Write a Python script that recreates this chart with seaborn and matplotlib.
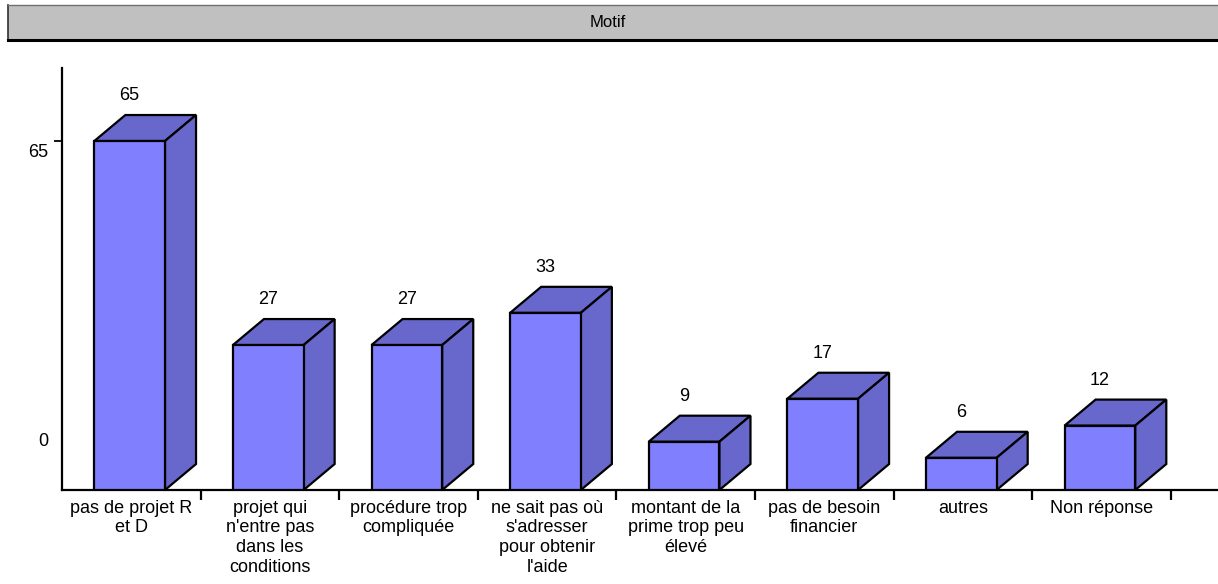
import numpy as np
import matplotlib
matplotlib.use("Agg")
import matplotlib.pyplot as plt
from matplotlib.patches import Polygon
from matplotlib.transforms import ScaledTranslation
import seaborn as sns

# Survey data: reasons given ("Motif") and number of answers
categories = [
    "pas de projet R\net D",
    "projet qui\nn'entre pas\ndans les\nconditions",
    "procédure trop\ncompliquée",
    "ne sait pas où\ns'adresser\npour obtenir\nl'aide",
    "montant de la\nprime trop peu\nélevé",
    "pas de besoin\nfinancier",
    "autres",
    "Non réponse",
]
counts = [65, 27, 27, 33, 9, 17, 6, 12]
ytick_values = [0, 65]
title_text = "Motif"

sns.set_style("white")
plt.rcParams["font.family"] = ["Liberation Sans", "DejaVu Sans"]
plt.rcParams["text.color"] = "black"
plt.rcParams["xtick.color"] = "black"
plt.rcParams["ytick.color"] = "black"
plt.rcParams["xtick.labelcolor"] = "black"
plt.rcParams["ytick.labelcolor"] = "black"

FRONT = "#8080FF"
SHADE = "#6868CC"

W, H = 1218, 584
fig = plt.figure(figsize=(W / 100, H / 100), dpi=100)

# main plotting area
ax = fig.add_axes([62 / W, 1 - 490 / H, 1 - 62 / W, 422 / H])
sns.barplot(x=list(range(len(counts))), y=counts, width=0.51, color=FRONT,
            edgecolor="black", linewidth=1.6, saturation=1, ax=ax, zorder=3)

ax.set_xlim(-0.5, 7.84)
ax.set_ylim(0, 78.6)

# 3D look: depth offset of each box (in data units)
dx, dy = 0.224, 4.84
for p, v in zip(ax.patches, counts):
    p.set_x(p.get_x() - 0.012)
    x0, w, h = p.get_x(), p.get_width(), p.get_height()
    top = Polygon([(x0, h), (x0 + dx, h + dy), (x0 + w + dx, h + dy), (x0 + w, h)],
                  closed=True, facecolor=SHADE, edgecolor="black", linewidth=1.6,
                  joinstyle="miter", zorder=2)
    side = Polygon([(x0 + w, 0), (x0 + w, h), (x0 + w + dx, h + dy), (x0 + w + dx, dy)],
                   closed=True, facecolor=SHADE, edgecolor="black", linewidth=1.6,
                   joinstyle="miter", zorder=2)
    ax.add_patch(top)
    ax.add_patch(side)
    ax.text(x0 + w / 2, v + dy + 3.6, f"{v}", ha="center", va="center",
            fontsize=13, color="black", clip_on=False)

# spines
for s in ["top", "right"]:
    ax.spines[s].set_visible(False)
for s in ["left", "bottom"]:
    ax.spines[s].set_linewidth(1.6)
    ax.spines[s].set_color("black")

# x axis: labels at category centres, tick marks at category boundaries
n = len(categories)
ax.set_xticks(np.arange(n))
ax.set_xticklabels(categories, fontsize=13, linespacing=1.2)
ax.set_xticks(np.arange(n) + 0.5, minor=True)
ax.tick_params(axis="x", which="major", length=0, pad=7, bottom=True)
ax.tick_params(axis="x", which="minor", length=7, width=1.6, direction="out",
               color="black", bottom=True)
ax.set_xlabel("")

# y axis
ax.set_yticks(ytick_values)
ax.set_yticklabels([str(t) for t in ytick_values], fontsize=13)
ax.tick_params(axis="y", which="major", length=6, width=1.3, direction="out",
               pad=4, left=True, color="black")
ax.yaxis.get_major_ticks()[0].tick1line.set_visible(False)
shift = [ScaledTranslation(0, 0.50, fig.dpi_scale_trans),
         ScaledTranslation(0, -0.09, fig.dpi_scale_trans)]
for lab, tr in zip(ax.get_yticklabels(), shift):
    lab.set_transform(lab.get_transform() + tr)

# title banner
tax = fig.add_axes([8 / W, 1 - 40 / H, 1 - 8 / W + 0.01, 35 / H])
tax.set_facecolor("#C0C0C0")
tax.set_xticks([])
tax.set_yticks([])
tax.spines["top"].set_color("#707070")
tax.spines["top"].set_linewidth(1.0)
tax.spines["left"].set_color("#303030")
tax.spines["left"].set_linewidth(1.2)
tax.spines["bottom"].set_color("black")
tax.spines["bottom"].set_linewidth(2.2)
tax.spines["right"].set_visible(False)
tax.text(600 / (W - 8 + 0.01 * W), 0.5, title_text, ha="center", va="center",
         fontsize=12, transform=tax.transAxes)

fig.savefig("out.png", dpi=100)
